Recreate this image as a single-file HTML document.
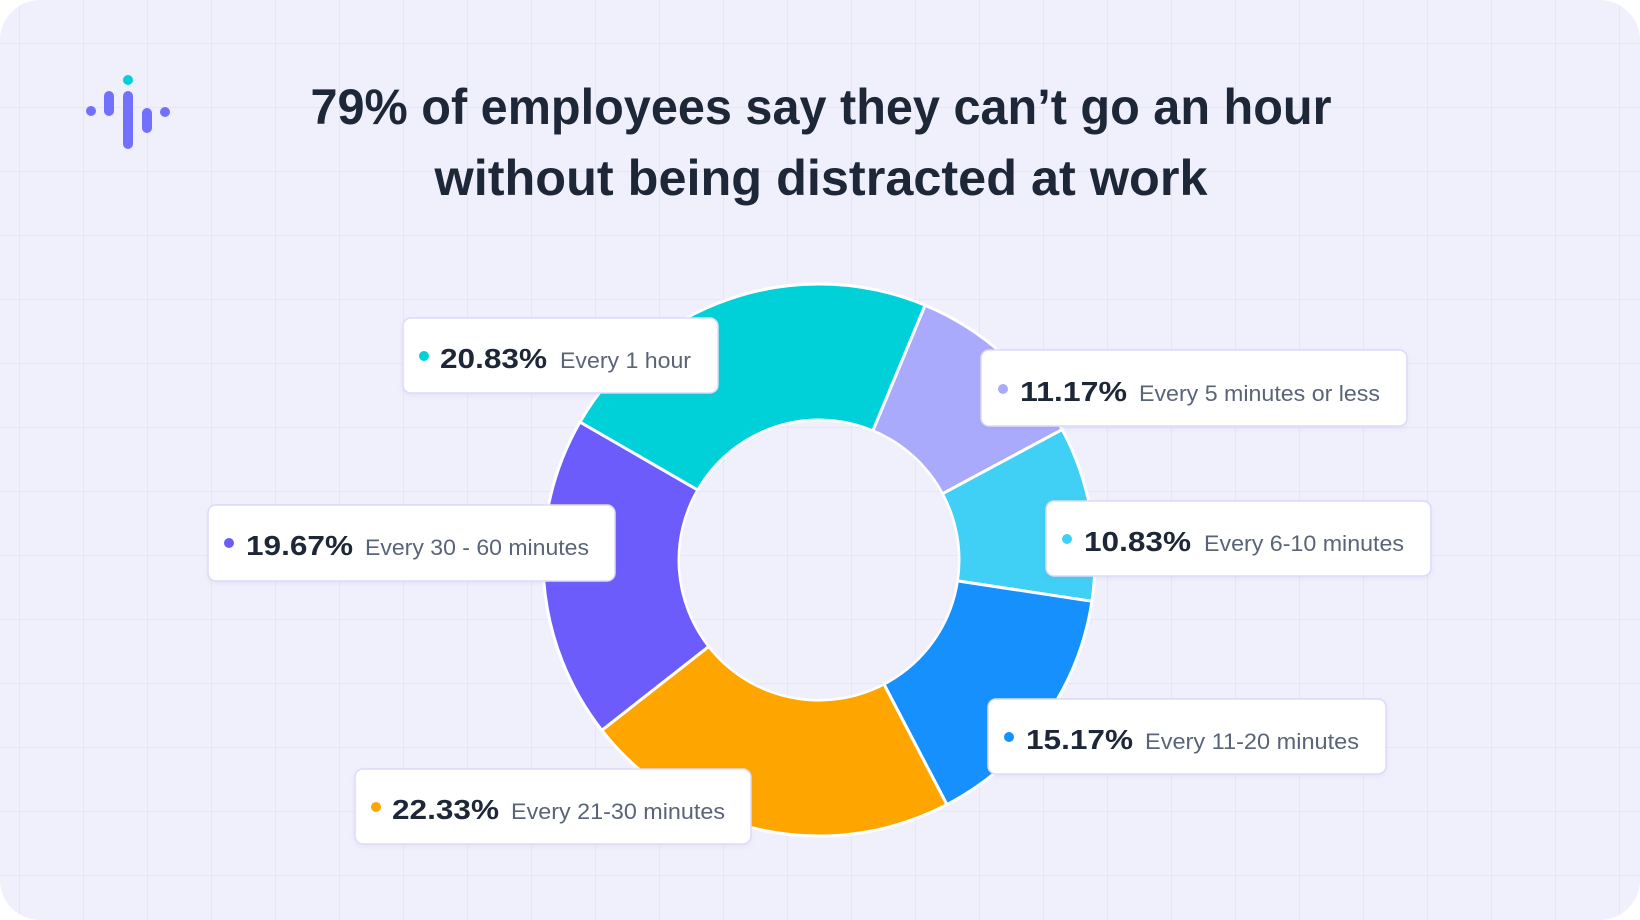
<!DOCTYPE html>
<html><head><meta charset="utf-8"><style>
html,body{margin:0;padding:0;background:#fff;}
svg{display:block;}
.t{font-family:"Liberation Sans",sans-serif;font-weight:bold;fill:#1e2738;}
.p{font-family:"Liberation Sans",sans-serif;font-weight:bold;fill:#1e2738;font-size:28px;}
.d{font-family:"Liberation Sans",sans-serif;fill:#5a6478;font-size:22px;}
</style></head><body>
<svg width="1640" height="920" viewBox="0 0 1640 920" xmlns="http://www.w3.org/2000/svg">
<defs>
<pattern id="g" x="19" y="43" width="64" height="64" patternUnits="userSpaceOnUse">
<path d="M0 0 H64 M0 0 V64" stroke="#e3e3f6" stroke-width="1.5" fill="none"/>
</pattern>
<radialGradient id="glow" cx="0.5" cy="0.5" r="0.5">
<stop offset="0.82" stop-color="#b8ecf4" stop-opacity="0.9"/>
<stop offset="1" stop-color="#f0f0fd" stop-opacity="0"/>
</radialGradient>
<filter id="sh" x="-10%" y="-20%" width="120%" height="140%"><feDropShadow dx="0" dy="2" stdDeviation="3" flood-color="#8080c0" flood-opacity="0.12"/></filter>
</defs>
<rect x="0" y="0" width="1640" height="920" rx="40" fill="#f0f0fd"/>
<rect x="0" y="0" width="1640" height="920" rx="40" fill="url(#g)"/>
<!-- logo -->
<g fill="#7370fd">
<circle cx="91" cy="111" r="5"/>
<rect x="104" y="91" width="10" height="25" rx="5"/>
<rect x="123" y="91" width="10" height="58" rx="5"/>
<rect x="142" y="108" width="10" height="25" rx="5"/>
<circle cx="165" cy="112" r="5"/>
</g>
<circle cx="128" cy="80" r="5" fill="#00d1d8"/>
<!-- title -->
<text class="t" x="821" y="124" font-size="50" text-anchor="middle" textLength="1021" lengthAdjust="spacingAndGlyphs">79% of employees say they can’t go an hour</text>
<text class="t" x="821" y="195" font-size="50" text-anchor="middle" textLength="773" lengthAdjust="spacingAndGlyphs">without being distracted at work</text>
<!-- donut -->
<g stroke="#fff" stroke-width="3" stroke-linejoin="round">
<path d="M925.1 305.2 A276 276 0 0 1 1062.2 429.6 L942.4 493.8 A140 140 0 0 0 872.8 430.8 Z" fill="#aaaafc"/>
<path d="M1062.2 429.6 A276 276 0 0 1 1091.9 601.3 L957.4 580.9 A140 140 0 0 0 942.4 493.8 Z" fill="#40cff5"/>
<path d="M1091.9 601.3 A276 276 0 0 1 946.9 804.6 L883.9 684.1 A140 140 0 0 0 957.4 580.9 Z" fill="#1590fd"/>
<path d="M946.9 804.6 A276 276 0 0 1 601.8 730.3 L708.8 646.4 A140 140 0 0 0 883.9 684.1 Z" fill="#fea500"/>
<path d="M601.8 730.3 A276 276 0 0 1 580.0 422 L697.8 490 A140 140 0 0 0 708.8 646.4 Z" fill="#6b5cfb"/>
<path d="M580.0 422 A276 276 0 0 1 925.1 305.2 L872.8 430.8 A140 140 0 0 0 697.8 490 Z" fill="#00d1d8"/>
</g>
<circle cx="819" cy="560" r="141" fill="#fff"/>
<circle cx="819" cy="560" r="139" fill="#f0f0fd"/>
<circle cx="819" cy="560" r="139" fill="url(#g)"/>
<!-- labels -->
<g filter="url(#sh)" fill="#fff" stroke="#dcdaf8" stroke-width="1.5">
<rect x="403" y="318" width="315" height="75" rx="8"/>
<rect x="981" y="350" width="426" height="76" rx="8"/>
<rect x="1046" y="501" width="385" height="75" rx="8"/>
<rect x="208" y="505" width="407" height="76" rx="8"/>
<rect x="988" y="699" width="398" height="75" rx="8"/>
<rect x="355" y="769" width="396" height="75" rx="8"/>
</g>
<circle cx="424" cy="356" r="5" fill="#00d1d8"/>
<text class="p" x="440" y="368" textLength="107" lengthAdjust="spacingAndGlyphs">20.83%</text>
<text class="d" x="560" y="368" textLength="131" lengthAdjust="spacingAndGlyphs">Every 1 hour</text>

<circle cx="1003" cy="389" r="5" fill="#aaaafc"/>
<text class="p" x="1020" y="401" textLength="107" lengthAdjust="spacingAndGlyphs">11.17%</text>
<text class="d" x="1139" y="401" textLength="241" lengthAdjust="spacingAndGlyphs">Every 5 minutes or less</text>

<circle cx="1067" cy="539" r="5" fill="#40cff5"/>
<text class="p" x="1084" y="551" textLength="107" lengthAdjust="spacingAndGlyphs">10.83%</text>
<text class="d" x="1204" y="551" textLength="200" lengthAdjust="spacingAndGlyphs">Every 6-10 minutes</text>

<circle cx="229" cy="543" r="5" fill="#6b5cfb"/>
<text class="p" x="246" y="555" textLength="107" lengthAdjust="spacingAndGlyphs">19.67%</text>
<text class="d" x="365" y="555" textLength="224" lengthAdjust="spacingAndGlyphs">Every 30 - 60 minutes</text>

<circle cx="1009" cy="737" r="5" fill="#1590fd"/>
<text class="p" x="1026" y="749" textLength="107" lengthAdjust="spacingAndGlyphs">15.17%</text>
<text class="d" x="1145" y="749" textLength="214" lengthAdjust="spacingAndGlyphs">Every 11-20 minutes</text>

<circle cx="376" cy="807" r="5" fill="#fea500"/>
<text class="p" x="392" y="819" textLength="107" lengthAdjust="spacingAndGlyphs">22.33%</text>
<text class="d" x="511" y="819" textLength="214" lengthAdjust="spacingAndGlyphs">Every 21-30 minutes</text>
</svg>
</body></html>
